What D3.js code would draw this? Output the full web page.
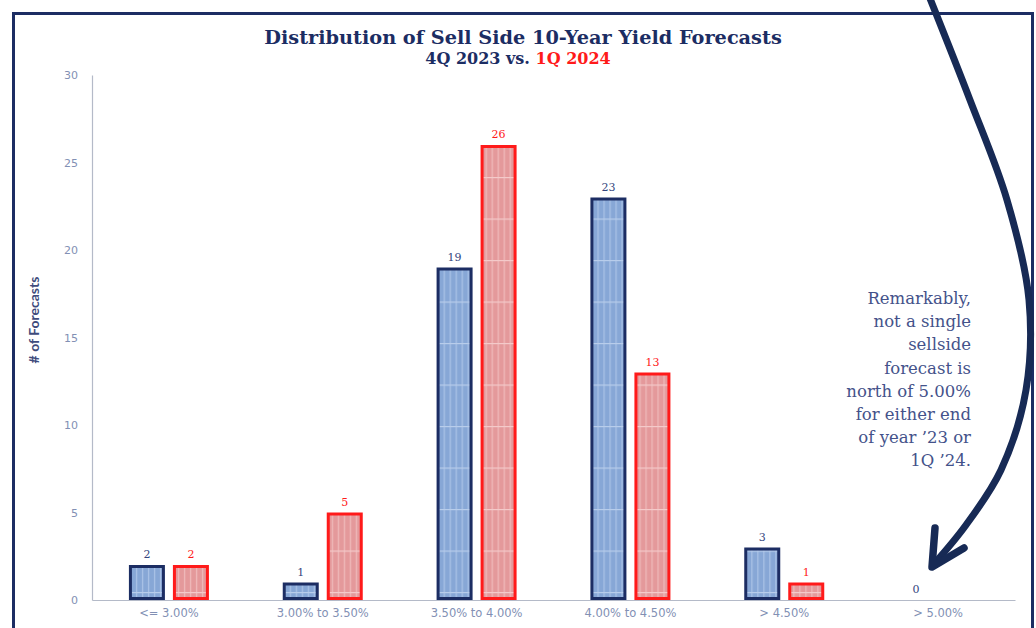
<!DOCTYPE html>
<html>
<head>
<meta charset="utf-8">
<script src="https://cdn.jsdelivr.net/npm/d3@7"></script>
<style>
  body { margin: 0; background: #fff; }
  svg { display: block; }
</style>
</head>
<body>
<div id="chart"></div>
<script>
var categories = ["<= 3.00%", "3.00% to 3.50%", "3.50% to 4.00%", "4.00% to 4.50%", "> 4.50%", "> 5.00%"];
var series = ["4Q 2023", "1Q 2024"];
var q4_2023 = [2, 1, 19, 23, 3, 0];
var q1_2024 = [2, 5, 26, 13, 1, 0];
var yTicks = [0, 5, 10, 15, 20, 25, 30];
var note = ["Remarkably,", "not a single", "sellside", "forecast is", "north of 5.00%", "for either end", "of year \u201923 or", "1Q \u201924."];

var svgWidth = 1036;
var svgHeight = 628;

var navy = "#1c2d63";
var red = "#ff1a1a";
var tickColor = "#8290b4";
var serif = "'DejaVu Serif', 'Liberation Serif', serif";
var sans = "'DejaVu Sans', Lato, sans-serif";

var svg = d3.select("#chart")
    .append("svg")
    .attr("width", svgWidth)
    .attr("height", svgHeight);

// patterns for the striped bars
var defs = svg.append("defs");
function stripes(id, base, light, hline) {
  var p = defs.append("pattern")
      .attr("id", id)
      .attr("patternUnits", "userSpaceOnUse")
      .attr("width", 6)
      .attr("height", 41.5)
      .attr("y", 592 % 41.5);
  p.append("rect").attr("width", 6).attr("height", 41.5).attr("fill", base);
  p.append("rect").attr("x", 3).attr("width", 1.3).attr("height", 41.5).attr("fill", light);
  p.append("rect").attr("y", 0).attr("width", 6).attr("height", 1.2).attr("fill", hline);
}
stripes("blueStripe", "#87a7d6", "#a9c1e6", "#b8cdeb");
stripes("redStripe", "#e4999b", "#efb9ba", "#f4caca");

// frame
svg.append("rect")
    .attr("x", 13.5).attr("y", 13.5)
    .attr("width", 1019).attr("height", 640)
    .attr("fill", "none")
    .attr("stroke", navy)
    .attr("stroke-width", 3);

var x0 = d3.scaleBand()
    .domain(categories)
    .range([92, 1015]);

var x1 = d3.scaleBand()
    .domain(series)
    .range([-40, 40])
    .paddingInner(8 / 44);

var y = d3.scaleLinear()
    .domain([0, 30])
    .range([600, 75]);

// y axis
var yAxis = svg.append("g")
    .attr("transform", "translate(92,0)")
    .call(d3.axisLeft(y).tickValues(yTicks).tickSize(0).tickPadding(14));
yAxis.select(".domain").attr("stroke", "#b4bac8").attr("stroke-width", 1.2);
yAxis.selectAll("text")
    .attr("fill", tickColor)
    .style("font-family", sans)
    .style("font-size", "11px");

// x axis
var xAxis = svg.append("g")
    .attr("transform", "translate(0,600)")
    .call(d3.axisBottom(x0).tickSize(0).tickPadding(9));
xAxis.select(".domain").attr("stroke", "#b4bac8").attr("stroke-width", 1.2);
xAxis.selectAll("text")
    .attr("fill", tickColor)
    .style("font-family", sans)
    .style("font-size", "11.5px");

var rows = categories.map(function(c, i) {
  return [
    {cat: c, s: series[0], v: q4_2023[i], fill: "url(#blueStripe)", stroke: navy, label: "#34457e"},
    {cat: c, s: series[1], v: q1_2024[i], fill: "url(#redStripe)", stroke: red, label: red}
  ];
});

var groups = svg.append("g").selectAll("g")
    .data(rows)
    .enter()
    .append("g")
    .attr("transform", function(d) {
      return "translate(" + (x0(d[0].cat) + x0.bandwidth() / 2) + ",0)";
    });

groups.selectAll("rect")
    .data(function(d) { return d.filter(function(b) { return b.v > 0; }); })
    .enter()
    .append("rect")
    .attr("x", function(d) { return x1(d.s) + 1.5; })
    .attr("y", function(d) { return y(d.v) + 1.5; })
    .attr("width", x1.bandwidth() - 3)
    .attr("height", function(d) { return y(0) - y(d.v) - 3; })
    .attr("fill", function(d) { return d.fill; })
    .attr("stroke", function(d) { return d.stroke; })
    .attr("stroke-width", 3);

groups.selectAll("text")
    .data(function(d) { return d.filter(function(b, i) { return b.v > 0 || i === 0; }); })
    .enter()
    .append("text")
    .attr("x", function(d) { return x1(d.s) + x1.bandwidth() / 2; })
    .attr("y", function(d) { return y(d.v) - 7; })
    .attr("text-anchor", "middle")
    .attr("fill", function(d) { return d.label; })
    .style("font-family", serif)
    .style("font-size", "11px")
    .text(function(d) { return d.v; });

// titles
svg.append("text")
    .attr("x", 523).attr("y", 44)
    .attr("text-anchor", "middle")
    .attr("fill", "#1c2d63")
    .style("font-family", serif)
    .style("font-weight", "bold")
    .style("font-size", "19.3px")
    .text("Distribution of Sell Side 10-Year Yield Forecasts");

var sub = svg.append("text")
    .attr("x", 518).attr("y", 64)
    .attr("text-anchor", "middle")
    .style("font-family", serif)
    .style("font-weight", "bold")
    .style("font-size", "16px");
sub.append("tspan").attr("fill", "#1c2d63").text("4Q 2023 vs. ");
sub.append("tspan").attr("fill", red).text("1Q 2024");

// y axis title
svg.append("text")
    .attr("transform", "translate(39,320) rotate(-90)")
    .attr("text-anchor", "middle")
    .attr("fill", "#3e4b7c")
    .style("font-family", "'Liberation Sans Narrow', Lato, sans-serif")
    .style("font-weight", "bold")
    .style("font-size", "14px")
    .text("# of Forecasts");

// annotation
svg.append("g").selectAll("text")
    .data(note)
    .enter()
    .append("text")
    .attr("x", 971)
    .attr("y", function(d, i) { return 304 + i * 23.2; })
    .attr("text-anchor", "end")
    .attr("fill", "#44528a")
    .style("font-family", serif)
    .style("font-size", "16.5px")
    .text(function(d) { return d; });

// curved arrow
var arrowPts = [[929, -4], [970, 100], [1007, 200], [1029, 300], [1026, 390], [1001, 470], [966, 525], [934, 564]];
svg.append("path")
    .attr("d", d3.line().curve(d3.curveCatmullRom)(arrowPts))
    .attr("fill", "none")
    .attr("stroke", "#172a55")
    .attr("stroke-width", 7)
    .attr("stroke-linecap", "round");
svg.append("path")
    .attr("d", d3.line()([[935, 528], [932, 567], [964, 548]]))
    .attr("fill", "none")
    .attr("stroke", "#172a55")
    .attr("stroke-width", 7.5)
    .attr("stroke-linecap", "round")
    .attr("stroke-linejoin", "round");
</script>
</body>
</html>
